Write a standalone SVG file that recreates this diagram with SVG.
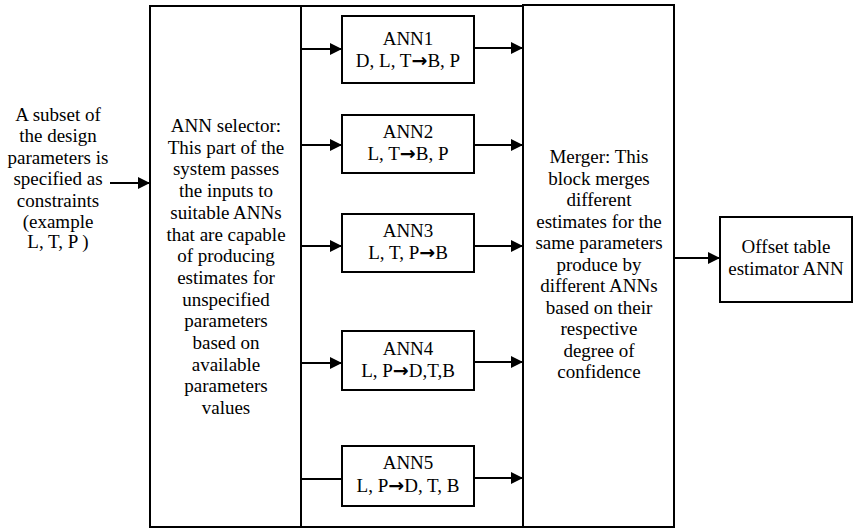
<svg xmlns="http://www.w3.org/2000/svg" width="854" height="529" viewBox="0 0 854 529">
  <style>
    .box { fill: #fff; stroke: #000; stroke-width: 2; }
    .wire { fill: none; stroke: #000; stroke-width: 2; }
    .t { font-family: 'Liberation Serif', 'Times New Roman', Times, Tinos, 'Nimbus Roman', 'Noto Serif', 'DejaVu Serif', serif; font-size: 19px; fill: #000; text-anchor: middle; }
    .arr { font-family: 'DejaVu Sans', sans-serif; font-weight: bold; font-size: 19px; }
  </style>
  <defs>
    <marker id="head" markerUnits="userSpaceOnUse" markerWidth="13" markerHeight="12" refX="12" refY="6" orient="auto">
      <path d="M0,0 L12,6 L0,12 Z" fill="#000"/>
    </marker>
  </defs>
  <rect width="854" height="529" fill="#fff"/>

  <!-- frame band between selector and merger -->
  <g id="frame">
    <line class="wire" x1="301" y1="6" x2="523" y2="6"/>
    <line class="wire" x1="301" y1="527" x2="523" y2="527"/>
  </g>

  <!-- input description -->
  <g id="input">
    <text class="t" x="58" y="121">A subset of</text>
    <text class="t" x="58" y="142">the design</text>
    <text class="t" x="58" y="163.5">parameters is</text>
    <text class="t" x="58" y="185">specified as</text>
    <text class="t" x="58" y="206.5">constraints</text>
    <text class="t" x="58" y="227.5">(example</text>
    <text class="t" x="58" y="248">L, T, P )</text>
  </g>

  <!-- ANN selector block -->
  <g id="selector">
    <rect class="box" x="150" y="6" width="151" height="521"/>
    <text class="t" x="226" y="132">ANN selector:</text>
    <text class="t" x="226" y="153.7">This part of the</text>
    <text class="t" x="226" y="175.4">system passes</text>
    <text class="t" x="226" y="197.1">the inputs to</text>
    <text class="t" x="226" y="218.8">suitable ANNs</text>
    <text class="t" x="226" y="240.5">that are capable</text>
    <text class="t" x="226" y="262.2">of producing</text>
    <text class="t" x="226" y="283.9">estimates for</text>
    <text class="t" x="226" y="305.6">unspecified</text>
    <text class="t" x="226" y="327.3">parameters</text>
    <text class="t" x="226" y="349">based on</text>
    <text class="t" x="226" y="370.7">available</text>
    <text class="t" x="226" y="392.4">parameters</text>
    <text class="t" x="226" y="414.1">values</text>
  </g>

  <!-- merger block -->
  <g id="merger">
    <rect class="box" x="523" y="5" width="151" height="522"/>
    <text class="t" x="599" y="163">Merger: This</text>
    <text class="t" x="599" y="184.5">block merges</text>
    <text class="t" x="599" y="206">different</text>
    <text class="t" x="599" y="227.5">estimates for the</text>
    <text class="t" x="599" y="249">same parameters</text>
    <text class="t" x="599" y="270.5">produce by</text>
    <text class="t" x="599" y="292">different ANNs</text>
    <text class="t" x="599" y="313.5">based on their</text>
    <text class="t" x="599" y="335">respective</text>
    <text class="t" x="599" y="356.5">degree of</text>
    <text class="t" x="599" y="378">confidence</text>
  </g>

  <!-- individual networks -->
  <g id="ann1">
    <rect class="box" x="342" y="16" width="132" height="67"/>
    <text class="t" x="408" y="45">ANN1</text>
    <text class="t" x="408" y="67">D, L, T<tspan class="arr">→</tspan>B, P</text>
  </g>
  <g id="ann2">
    <rect class="box" x="342" y="115" width="132" height="58"/>
    <text class="t" x="408" y="138">ANN2</text>
    <text class="t" x="408" y="160">L, T<tspan class="arr">→</tspan>B, P</text>
  </g>
  <g id="ann3">
    <rect class="box" x="342" y="214" width="132" height="58"/>
    <text class="t" x="408" y="237">ANN3</text>
    <text class="t" x="408" y="258.5">L, T, P<tspan class="arr">→</tspan>B</text>
  </g>
  <g id="ann4">
    <rect class="box" x="342" y="331" width="132" height="59"/>
    <text class="t" x="408" y="355">ANN4</text>
    <text class="t" x="408" y="377">L, P<tspan class="arr">→</tspan>D,T,B</text>
  </g>
  <g id="ann5">
    <rect class="box" x="342" y="446" width="132" height="60"/>
    <text class="t" x="408" y="469">ANN5</text>
    <text class="t" x="408" y="492">L, P<tspan class="arr">→</tspan>D, T, B</text>
  </g>

  <!-- final estimator -->
  <g id="offset">
    <rect class="box" x="720" y="217" width="132" height="85"/>
    <text class="t" x="786" y="253">Offset table</text>
    <text class="t" x="786" y="275">estimator ANN</text>
  </g>

  <!-- connectors -->
  <g id="connectors">
    <line class="wire" x1="110" y1="183" x2="150" y2="183" marker-end="url(#head)"/>

    <line class="wire" x1="301" y1="49" x2="342" y2="49" marker-end="url(#head)"/>
    <line class="wire" x1="301" y1="145" x2="342" y2="145" marker-end="url(#head)"/>
    <line class="wire" x1="301" y1="246" x2="342" y2="246" marker-end="url(#head)"/>
    <line class="wire" x1="301" y1="363" x2="342" y2="363" marker-end="url(#head)"/>
    <line class="wire" x1="301" y1="479" x2="342" y2="479"/>

    <line class="wire" x1="474" y1="48" x2="523" y2="48" marker-end="url(#head)"/>
    <line class="wire" x1="474" y1="145" x2="523" y2="145" marker-end="url(#head)"/>
    <line class="wire" x1="474" y1="246" x2="523" y2="246" marker-end="url(#head)"/>
    <line class="wire" x1="474" y1="362" x2="523" y2="362" marker-end="url(#head)"/>
    <line class="wire" x1="474" y1="478" x2="523" y2="478" marker-end="url(#head)"/>

    <line class="wire" x1="674" y1="258" x2="720" y2="258" marker-end="url(#head)"/>
  </g>
</svg>
